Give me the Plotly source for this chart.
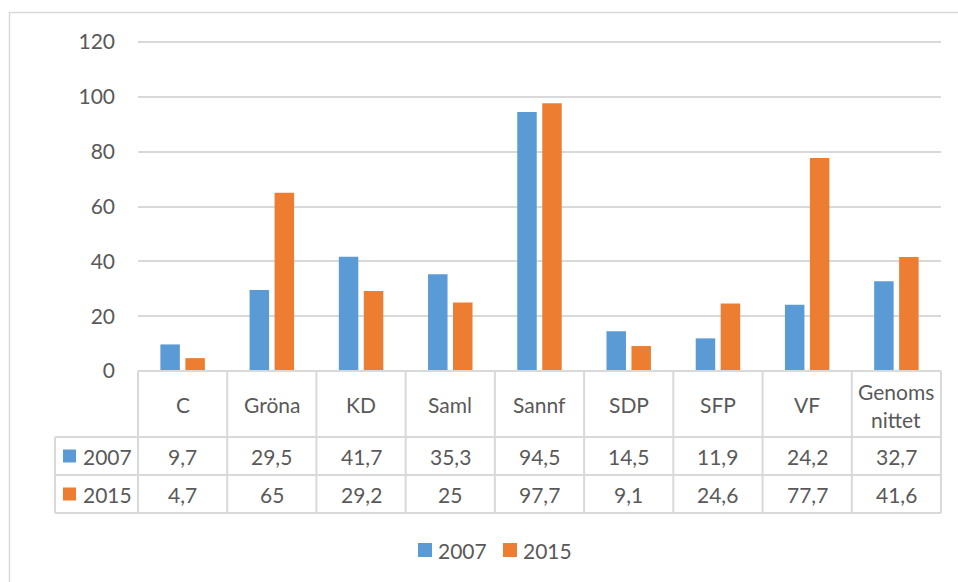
import plotly.graph_objects as go

# ---- data ----
categories = ["C", "Gröna", "KD", "Saml", "Sannf", "SDP", "SFP", "VF", "Genoms<br>nittet"]
series_names = ["2007", "2015"]
values_2007 = [9.7, 29.5, 41.7, 35.3, 94.5, 14.5, 11.9, 24.2, 32.7]
values_2015 = [4.7, 65, 29.2, 25, 97.7, 9.1, 24.6, 77.7, 41.6]
y_ticks = [0, 20, 40, 60, 80, 100, 120]

# ---- style ----
colors = ["#5B9BD5", "#ED7D31"]
text_color = "#595959"
line_color = "#D9D9D9"
font_family = "Lato, Carlito, Calibri, sans-serif"
fs = 21

W, H = 958, 582
L, R, T, B = 138, 941, 34, 371  # plot area in pixels
PW, PH = R - L, B - T
y_top = 120 * PH / (B - 42)  # so that 120 sits at pixel 42


def px(x):
    return (x - L) / PW


def py(y):
    return (B - y) / PH


def fmt(v):
    return ("%g" % v).replace(".", ",")


series = [values_2007, values_2015]

fig = go.Figure()
for name, vals, col in zip(series_names, series, colors):
    fig.add_trace(go.Bar(name=name, x=categories, y=vals, marker_color=col,
                         marker_line_width=0, showlegend=False))

n = len(categories)
col_w = PW / n
header_bottom = 437
row1_bottom = 475
row2_bottom = 513
left_col = 55

shapes = []
shapes.append(dict(type="rect", xref="paper", yref="paper",
                   x0=px(9.5), x1=px(W + 20), y0=py(12.5), y1=py(H + 20),
                   line=dict(color=line_color, width=1.5), layer="below"))
shapes.append(dict(type="line", xref="paper", yref="paper",
                   x0=px(L), x1=px(R), y0=py(B), y1=py(B),
                   line=dict(color=line_color, width=2)))
for yy in [header_bottom, row1_bottom, row2_bottom]:
    shapes.append(dict(type="line", xref="paper", yref="paper",
                       x0=px(left_col), x1=px(R), y0=py(yy), y1=py(yy),
                       line=dict(color=line_color, width=2)))
for i in range(n + 1):
    xx = L + i * col_w
    shapes.append(dict(type="line", xref="paper", yref="paper",
                       x0=px(xx), x1=px(xx), y0=py(B), y1=py(row2_bottom),
                       line=dict(color=line_color, width=2)))
shapes.append(dict(type="line", xref="paper", yref="paper",
                   x0=px(left_col), x1=px(left_col), y0=py(header_bottom), y1=py(row2_bottom),
                   line=dict(color=line_color, width=2)))

annotations = []
for i, cat in enumerate(categories):
    xc = px(L + (i + 0.5) * col_w)
    lines = cat.split("<br>")
    if len(lines) == 1:
        annotations.append(dict(xref="paper", yref="paper", x=xc, y=py((B + header_bottom) / 2),
                                text=cat, showarrow=False, xanchor="center", yanchor="middle",
                                font=dict(size=fs, color=text_color, family=font_family)))
    else:
        for k, ln in enumerate(lines):
            annotations.append(dict(xref="paper", yref="paper", x=xc, y=py(391 + 28 * k),
                                    text=ln, showarrow=False, xanchor="center", yanchor="middle",
                                    font=dict(size=fs, color=text_color, family=font_family)))

row_tops = [header_bottom, row1_bottom]
row_bots = [row1_bottom, row2_bottom]
for name, vals, col, rt, rb in zip(series_names, series, colors, row_tops, row_bots):
    yc = (rt + rb) / 2
    for i, v in enumerate(vals):
        annotations.append(dict(xref="paper", yref="paper",
                                x=px(L + (i + 0.5) * col_w), y=py(yc),
                                text=fmt(v), showarrow=False, xanchor="center", yanchor="middle",
                                font=dict(size=fs, color=text_color, family=font_family)))
    shapes.append(dict(type="rect", xref="paper", yref="paper",
                       x0=px(63), x1=px(76), y0=py(yc - 6.5), y1=py(yc + 6.5),
                       fillcolor=col, line=dict(width=0)))
    annotations.append(dict(xref="paper", yref="paper", x=px(81), y=py(yc),
                            text=name, showarrow=False, xanchor="left", yanchor="middle",
                            font=dict(size=fs, color=text_color, family=font_family)))

# bottom legend
leg_y = 550
for k, (name, col) in enumerate(zip(series_names, colors)):
    x0 = 418 + 85 * k
    shapes.append(dict(type="rect", xref="paper", yref="paper",
                       x0=px(x0), x1=px(x0 + 14), y0=py(leg_y - 7), y1=py(leg_y + 7),
                       fillcolor=col, line=dict(width=0)))
    annotations.append(dict(xref="paper", yref="paper", x=px(x0 + 18), y=py(leg_y),
                            text=name, showarrow=False, xanchor="left", yanchor="middle",
                            font=dict(size=fs, color=text_color, family=font_family)))

fig.update_layout(
    width=W, height=H,
    margin=dict(l=L, r=W - R, t=T, b=H - B, pad=0),
    paper_bgcolor="white", plot_bgcolor="white",
    font=dict(family=font_family, size=fs, color=text_color),
    barmode="group", bargap=0.44, bargroupgap=0.22,
    showlegend=False,
    xaxis=dict(showticklabels=False, showgrid=False, zeroline=False, showline=False,
               range=[-0.5, n - 0.5], fixedrange=True),
    yaxis=dict(range=[0, y_top], tickvals=y_ticks, showgrid=True, gridcolor=line_color,
               gridwidth=1.5, zeroline=False, showline=False, ticks="",
               ticklabelstandoff=22, tickfont=dict(size=fs, color=text_color, family=font_family),
               fixedrange=True),
    shapes=shapes, annotations=annotations,
)

fig.write_html("out.html", config={"displayModeBar": False},
               post_script="document.body.style.margin='0';")
